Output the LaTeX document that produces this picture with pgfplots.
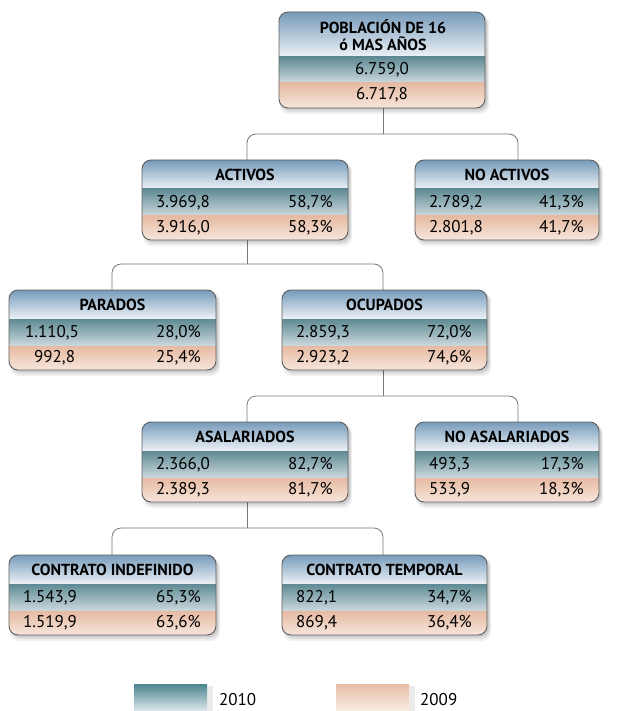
\documentclass[border=0pt]{standalone}
\usepackage{pgfplots}
\pgfplotsset{compat=1.18}
\usepackage{fontspec}
\setmainfont{PT Sans}
\definecolor{hdtop}{RGB}{118,155,186}
\definecolor{hdbot}{RGB}{238,242,246}
\definecolor{tltop}{RGB}{95,138,148}
\definecolor{tlbot}{RGB}{205,218,222}
\definecolor{pctop}{RGB}{230,186,162}
\definecolor{pcbot}{RGB}{247,230,220}
\definecolor{bgray}{RGB}{95,95,95}
\definecolor{lgray}{RGB}{120,120,120}
\definecolor{lgtl}{RGB}{75,133,143}
\definecolor{lgtlb}{RGB}{222,232,234}
\definecolor{lgpc}{RGB}{232,190,166}
\definecolor{lgpcb}{RGB}{250,236,228}
\newcommand{\fnt}{\fontsize{17}{19}\selectfont}
\newcommand{\tfnt}{\bfseries\fontsize{16}{17.5}\selectfont}
% \orgbox{x0}{y0}{x1}{title}{value 2010}{pct 2010}{value 2009}{pct 2009}
\newcommand{\orgbox}[8]{%
  \fill[black,opacity=0.06,rounded corners=9pt] ({#1+1},{#2+2}) rectangle ({#3+4},{#2+86});
  \fill[black,opacity=0.07,rounded corners=9pt] ({#1+2},{#2+3}) rectangle ({#3+3},{#2+84});
  \fill[black,opacity=0.09,rounded corners=9pt] ({#1+2},{#2+3}) rectangle ({#3+2},{#2+82});
  \begin{scope}
    \clip[rounded corners=9pt] (#1,#2) rectangle (#3,{#2+80});
    \shade[top color=hdtop,bottom color=hdbot] (#1,#2) rectangle (#3,{#2+29});
    \shade[top color=tltop,bottom color=tlbot] (#1,{#2+29}) rectangle (#3,{#2+56});
    \shade[top color=pctop,bottom color=pcbot] (#1,{#2+56}) rectangle (#3,{#2+80});
  \end{scope}
  \draw[bgray,line width=0.9pt,rounded corners=9pt] (#1,#2) rectangle (#3,{#2+80});
  \node[font=\tfnt,inner sep=0pt] at ({(#1+#3)/2},{#2+15}) {#4};
  \node[font=\fnt,inner sep=0pt,anchor=west] at ({#1+14},{#2+43}) {#5};
  \node[font=\fnt,inner sep=0pt,anchor=east] at ({#3-15},{#2+43}) {#6};
  \node[font=\fnt,inner sep=0pt,anchor=west] at ({#1+14},{#2+68}) {#7};
  \node[font=\fnt,inner sep=0pt,anchor=east] at ({#3-15},{#2+68}) {#8};
}
\begin{document}
\begin{tikzpicture}
\begin{axis}[width=618pt,height=711pt,scale only axis,hide axis,
  xmin=0,xmax=618,ymin=0,ymax=711,y dir=reverse,clip=false]
% connectors
\draw[lgray,line width=0.8pt] (383,108) -- (383,134);
\draw[lgray,line width=0.8pt,rounded corners=9pt] (247,160) -- (247,134) -- (518,134) -- (518,160);
\draw[lgray,line width=0.8pt] (247,240) -- (247,264);
\draw[lgray,line width=0.8pt,rounded corners=9pt] (112,290) -- (112,264) -- (383,264) -- (383,290);
\draw[lgray,line width=0.8pt] (383,370) -- (383,396);
\draw[lgray,line width=0.8pt,rounded corners=9pt] (247,422) -- (247,396) -- (518,396) -- (518,422);
\draw[lgray,line width=0.8pt] (247,502) -- (247,528);
\draw[lgray,line width=0.8pt,rounded corners=9pt] (112,555) -- (112,528) -- (383,528) -- (383,555);
% top box
\fill[black,opacity=0.06,rounded corners=9pt] (280,14) rectangle (489,114);
\fill[black,opacity=0.07,rounded corners=9pt] (281,15) rectangle (488,112);
\fill[black,opacity=0.09,rounded corners=9pt] (281,15) rectangle (487,110);
\begin{scope}
  \clip[rounded corners=9pt] (279,12) rectangle (485,108);
  \shade[top color=hdtop,bottom color=hdbot] (279,12) rectangle (485,57);
  \shade[top color=tltop,bottom color=tlbot] (279,57) rectangle (485,83);
  \shade[top color=pctop,bottom color=pcbot] (279,83) rectangle (485,108);
\end{scope}
\draw[bgray,line width=0.9pt,rounded corners=9pt] (279,12) rectangle (485,108);
\node[font=\tfnt,inner sep=0pt,align=center] at (383,35) {POBLACIÓN DE 16\\ó MAS AÑOS};
\node[font=\fnt,inner sep=0pt] at (382,70) {6.759,0};
\node[font=\fnt,inner sep=0pt] at (382,95) {6.717,8};
% boxes
\orgbox{142}{160}{348}{ACTIVOS}{3.969,8}{58,7\%}{3.916,0}{58,3\%}
\orgbox{415}{160}{599}{NO ACTIVOS}{2.789,2}{41,3\%}{2.801,8}{41,7\%}
\orgbox{9}{290}{216}{PARADOS}{\hspace*{2pt}1.110,5}{28,0\%}{\hspace*{11pt}992,8}{25,4\%}
\orgbox{282}{290}{487}{OCUPADOS}{2.859,3}{72,0\%}{2.923,2}{74,6\%}
\orgbox{142}{422}{348}{ASALARIADOS}{2.366,0}{82,7\%}{2.389,3}{81,7\%}
\orgbox{415}{422}{599}{NO ASALARIADOS}{493,3}{17,3\%}{533,9}{18,3\%}
\orgbox{9}{555}{216}{CONTRATO INDEFINIDO}{1.543,9}{65,3\%}{1.519,9}{63,6\%}
\orgbox{282}{555}{487}{CONTRATO TEMPORAL}{822,1}{34,7\%}{869,4}{36,4\%}
% legend
\fill[black,opacity=0.08] (207,686) rectangle (213,711);
\shade[top color=lgtl,bottom color=lgtlb] (134,684) rectangle (207,711);
\node[font=\fnt,inner sep=0pt,anchor=base west] at (219,705) {2010};
\fill[black,opacity=0.08] (409,686) rectangle (415,711);
\shade[top color=lgpc,bottom color=lgpcb] (336,684) rectangle (409,711);
\node[font=\fnt,inner sep=0pt,anchor=base west] at (420,705) {2009};
\end{axis}
\pgfresetboundingbox
\useasboundingbox (current axis.south west) rectangle (current axis.north east);
\end{tikzpicture}
\end{document}
